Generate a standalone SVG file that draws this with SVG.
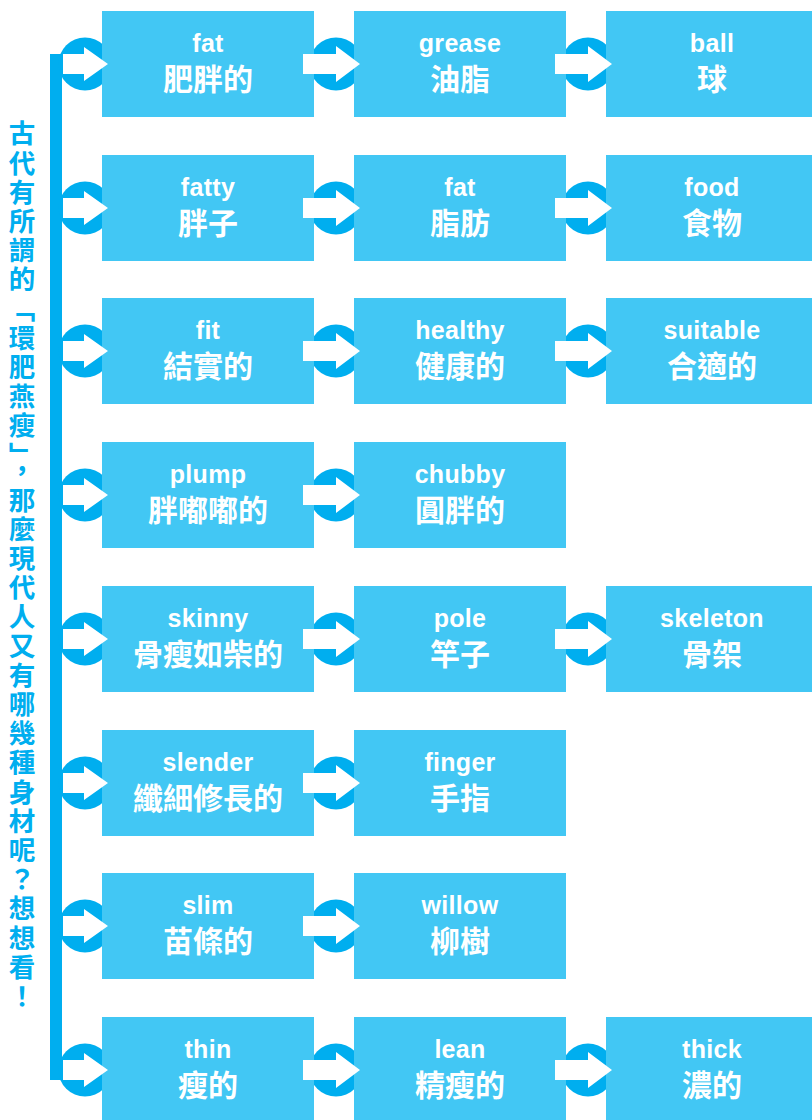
<svg xmlns="http://www.w3.org/2000/svg" width="812" height="1120" viewBox="0 0 812 1120">
<style>
.box{fill:#42C7F4}
.dot{fill:#00AEEF}
.arr{fill:#FFFFFF}
.en{font-family:"Liberation Sans","Noto Sans",sans-serif;font-weight:bold;font-size:25px;fill:#FFFFFF;text-anchor:middle;letter-spacing:0.3px}
.zh{font-family:"Noto Sans CJK TC","Noto Sans CJK SC",sans-serif;font-weight:bold;font-size:30px;fill:#FFFFFF;text-anchor:middle}
.title{font-family:"Noto Sans CJK TC","Noto Sans CJK SC",sans-serif;font-weight:bold;font-size:26.5px;fill:#00AEEF;writing-mode:vertical-rl;letter-spacing:2.7px}
</style>
<rect width="812" height="1120" fill="#FFFFFF"/>
<text class="title" x="22" y="120">古代有所謂的「環肥燕瘦」，那麼現代人又有哪幾種身材呢？想想看！</text>
<g id="connectors">
<rect class="dot" x="50" y="54" width="12" height="1026"/>
<circle class="dot" cx="85" cy="64" r="26.5"/><circle class="dot" cx="336" cy="64" r="26.5"/><circle class="dot" cx="588" cy="64" r="26.5"/>
<circle class="dot" cx="85" cy="208" r="26.5"/><circle class="dot" cx="336" cy="208" r="26.5"/><circle class="dot" cx="588" cy="208" r="26.5"/>
<circle class="dot" cx="85" cy="351" r="26.5"/><circle class="dot" cx="336" cy="351" r="26.5"/><circle class="dot" cx="588" cy="351" r="26.5"/>
<circle class="dot" cx="85" cy="495" r="26.5"/><circle class="dot" cx="336" cy="495" r="26.5"/>
<circle class="dot" cx="85" cy="639" r="26.5"/><circle class="dot" cx="336" cy="639" r="26.5"/><circle class="dot" cx="588" cy="639" r="26.5"/>
<circle class="dot" cx="85" cy="783" r="26.5"/><circle class="dot" cx="336" cy="783" r="26.5"/>
<circle class="dot" cx="85" cy="926" r="26.5"/><circle class="dot" cx="336" cy="926" r="26.5"/>
<circle class="dot" cx="85" cy="1070" r="26.5"/><circle class="dot" cx="336" cy="1070" r="26.5"/><circle class="dot" cx="588" cy="1070" r="26.5"/>
</g>
<g id="n-fat"><rect class="box" x="102" y="11" width="212" height="106"/><text class="en" x="208" y="52">fat</text><text class="zh" x="208" y="90">肥胖的</text></g>
<g id="n-grease"><rect class="box" x="354" y="11" width="212" height="106"/><text class="en" x="460" y="52">grease</text><text class="zh" x="460" y="90">油脂</text></g>
<g id="n-ball"><rect class="box" x="606" y="11" width="212" height="106"/><text class="en" x="712" y="52">ball</text><text class="zh" x="712" y="90">球</text></g>
<g id="n-fatty"><rect class="box" x="102" y="155" width="212" height="106"/><text class="en" x="208" y="196">fatty</text><text class="zh" x="208" y="234">胖子</text></g>
<g id="n-fat2"><rect class="box" x="354" y="155" width="212" height="106"/><text class="en" x="460" y="196">fat</text><text class="zh" x="460" y="234">脂肪</text></g>
<g id="n-food"><rect class="box" x="606" y="155" width="212" height="106"/><text class="en" x="712" y="196">food</text><text class="zh" x="712" y="234">食物</text></g>
<g id="n-fit"><rect class="box" x="102" y="298" width="212" height="106"/><text class="en" x="208" y="339">fit</text><text class="zh" x="208" y="377">結實的</text></g>
<g id="n-healthy"><rect class="box" x="354" y="298" width="212" height="106"/><text class="en" x="460" y="339">healthy</text><text class="zh" x="460" y="377">健康的</text></g>
<g id="n-suitable"><rect class="box" x="606" y="298" width="212" height="106"/><text class="en" x="712" y="339">suitable</text><text class="zh" x="712" y="377">合適的</text></g>
<g id="n-plump"><rect class="box" x="102" y="442" width="212" height="106"/><text class="en" x="208" y="483">plump</text><text class="zh" x="208" y="521">胖嘟嘟的</text></g>
<g id="n-chubby"><rect class="box" x="354" y="442" width="212" height="106"/><text class="en" x="460" y="483">chubby</text><text class="zh" x="460" y="521">圓胖的</text></g>
<g id="n-skinny"><rect class="box" x="102" y="586" width="212" height="106"/><text class="en" x="208" y="627">skinny</text><text class="zh" x="208" y="665">骨瘦如柴的</text></g>
<g id="n-pole"><rect class="box" x="354" y="586" width="212" height="106"/><text class="en" x="460" y="627">pole</text><text class="zh" x="460" y="665">竿子</text></g>
<g id="n-skeleton"><rect class="box" x="606" y="586" width="212" height="106"/><text class="en" x="712" y="627">skeleton</text><text class="zh" x="712" y="665">骨架</text></g>
<g id="n-slender"><rect class="box" x="102" y="730" width="212" height="106"/><text class="en" x="208" y="771">slender</text><text class="zh" x="208" y="809">纖細修長的</text></g>
<g id="n-finger"><rect class="box" x="354" y="730" width="212" height="106"/><text class="en" x="460" y="771">finger</text><text class="zh" x="460" y="809">手指</text></g>
<g id="n-slim"><rect class="box" x="102" y="873" width="212" height="106"/><text class="en" x="208" y="914">slim</text><text class="zh" x="208" y="952">苗條的</text></g>
<g id="n-willow"><rect class="box" x="354" y="873" width="212" height="106"/><text class="en" x="460" y="914">willow</text><text class="zh" x="460" y="952">柳樹</text></g>
<g id="n-thin"><rect class="box" x="102" y="1017" width="212" height="106"/><text class="en" x="208" y="1058">thin</text><text class="zh" x="208" y="1096">瘦的</text></g>
<g id="n-lean"><rect class="box" x="354" y="1017" width="212" height="106"/><text class="en" x="460" y="1058">lean</text><text class="zh" x="460" y="1096">精瘦的</text></g>
<g id="n-thick"><rect class="box" x="606" y="1017" width="212" height="106"/><text class="en" x="712" y="1058">thick</text><text class="zh" x="712" y="1096">濃的</text></g>
<defs>
<path id="la" d="M63,-10H84V-17L108,0L84,17V10H63Z"/>
<path id="ba" d="M303,-10H336V-18L360,0L336,18V10H303Z"/>
</defs>
<g id="connector-arrows" class="arr">
<use href="#la" y="64"/><use href="#ba" y="64"/><use href="#ba" x="252" y="64"/>
<use href="#la" y="208"/><use href="#ba" y="208"/><use href="#ba" x="252" y="208"/>
<use href="#la" y="351"/><use href="#ba" y="351"/><use href="#ba" x="252" y="351"/>
<use href="#la" y="495"/><use href="#ba" y="495"/>
<use href="#la" y="639"/><use href="#ba" y="639"/><use href="#ba" x="252" y="639"/>
<use href="#la" y="783"/><use href="#ba" y="783"/>
<use href="#la" y="926"/><use href="#ba" y="926"/>
<use href="#la" y="1070"/><use href="#ba" y="1070"/><use href="#ba" x="252" y="1070"/>
</g>
</svg>
